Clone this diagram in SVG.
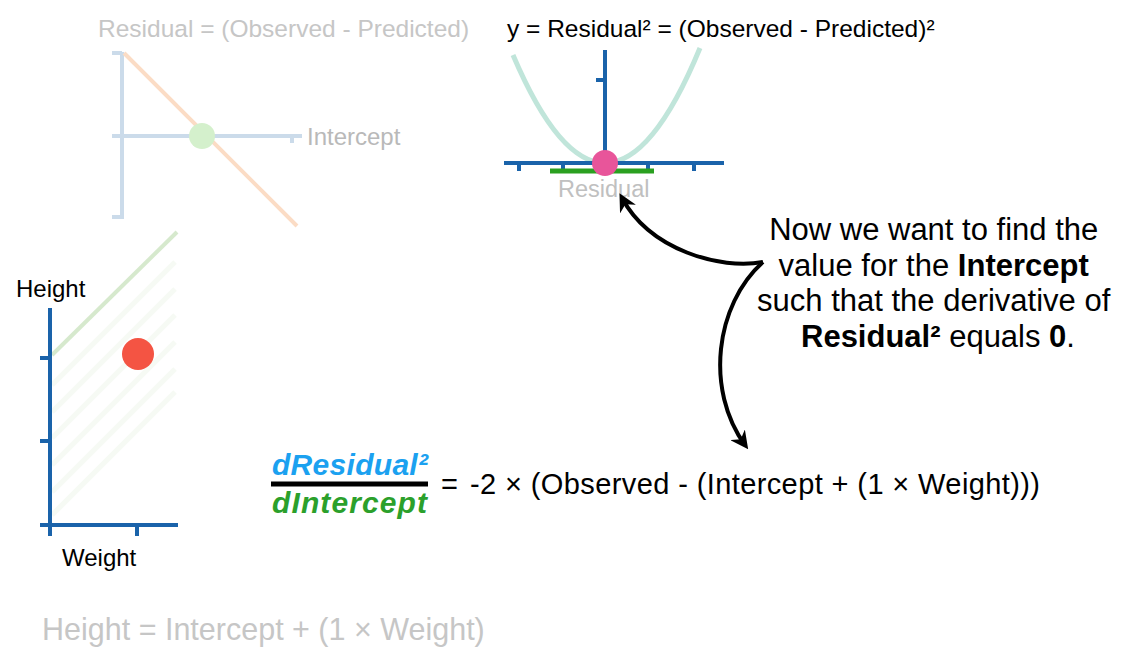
<svg xmlns="http://www.w3.org/2000/svg" width="1125" height="663" viewBox="0 0 1125 663">
<defs>
<style>
text{font-family:"Liberation Sans",Arial,sans-serif}
.faint{fill:#c6c6c6}
.blk{fill:#000}
.axf{stroke:#cbdbea;stroke-width:4;fill:none;stroke-linecap:butt}
.ax{stroke:#1a63aa;stroke-width:4;fill:none}
.b{font-weight:bold}
.conn{stroke:#000;stroke-width:4;fill:none}
.hatch{stroke:#f6faf4;stroke-width:5}
.frac{font-size:30px;font-weight:bold;font-style:italic}
</style>
<marker id="ah" viewBox="0 0 10 10" refX="7" refY="5" markerWidth="18" markerHeight="18" markerUnits="userSpaceOnUse" orient="auto-start-reverse">
<path d="M0,0 L10,5 L0,10 L3,5 z" fill="#000"/>
</marker>
</defs>
<rect width="1125" height="663" fill="#fff"/>

<g id="residual-plot">
<text class="faint" x="98" y="37" font-size="24.5">Residual = (Observed - Predicted)</text>
<path class="axf" d="M122,52 V219 M112,53 H122 M112,217 H122 M112,136 H302 M292,136 V143"/>
<line x1="124" y1="53" x2="297" y2="226" stroke="#fbdcc5" stroke-width="4"/>
<circle cx="202" cy="136" r="13" fill="#d4f0cc"/>
<text x="307" y="145" font-size="24" fill="#b9b9b9">Intercept</text>
</g>

<g id="squared-plot">
<text class="blk" x="507" y="37" font-size="24.5">y = Residual² = (Observed - Predicted)²</text>
<path d="M513,55 Q559,163 605,163 Q652.5,163 700,48" stroke="#c0e5da" stroke-width="5" fill="none"/>
<path class="ax" d="M605,50 V163 M596,80 H605 M504,163 H724 M519,163 V171 M563,163 V171 M648,163 V171 M694,163 V171"/>
<line x1="550" y1="171" x2="654" y2="171" stroke="#2aa020" stroke-width="5"/>
<circle cx="605" cy="163" r="13" fill="#e8559a"/>
<text x="558" y="197" font-size="23.5" fill="#c0c0c0">Residual</text>
</g>

<g id="data-plot">
<text class="blk" x="16" y="297" font-size="24">Height</text>
<g class="hatch">
<line x1="52" y1="385" x2="175" y2="262"/>
<line x1="52" y1="412" x2="175" y2="289"/>
<line x1="52" y1="438" x2="175" y2="315"/>
<line x1="52" y1="465" x2="175" y2="342"/>
<line x1="52" y1="492" x2="175" y2="369"/>
<line x1="52" y1="515" x2="175" y2="392"/>
</g>
<line x1="52" y1="355" x2="177" y2="232" stroke="#d6e9cd" stroke-width="4"/>
<path class="ax" d="M50,308 V536 M40,358 H50 M40,441 H50 M40,525 H178 M137,525 V536"/>
<circle cx="138" cy="354" r="16" fill="#f45443"/>
<text class="blk" x="62" y="566" font-size="24">Weight</text>
<text class="faint" x="42" y="640" font-size="30.5">Height = Intercept + (1 × Weight)</text>
</g>

<g id="note">
<text class="blk" font-size="31" text-anchor="middle">
<tspan x="938" y="240">Now we want to find the</tspan>
<tspan x="938" y="276">value for the <tspan class="b">Intercept</tspan></tspan>
<tspan x="938" y="311">such that the derivative of</tspan>
<tspan x="938" y="347"><tspan class="b">Residual²</tspan> equals <tspan class="b">0</tspan>.</tspan>
</text>
</g>

<g id="derivative">
<text class="frac" x="272" y="475" fill="#1ba1f0" textLength="156">dResidual²</text>
<line x1="271" y1="484" x2="428" y2="484" stroke="#000" stroke-width="5"/>
<text class="frac" x="272" y="513" fill="#2ba02b" textLength="155">dIntercept</text>
<text class="blk" x="441" y="494" font-size="29">=</text>
<text class="blk" x="470" y="494" font-size="29" textLength="570">-2 × (Observed - (Intercept + (1 × Weight)))</text>
</g>

<g id="connectors">
<path class="conn" d="M763,262 C720,270 650,250 622,198" marker-end="url(#ah)"/>
<path class="conn" d="M763,262 C715,305 705,390 745,445" marker-end="url(#ah)"/>
</g>
</svg>
